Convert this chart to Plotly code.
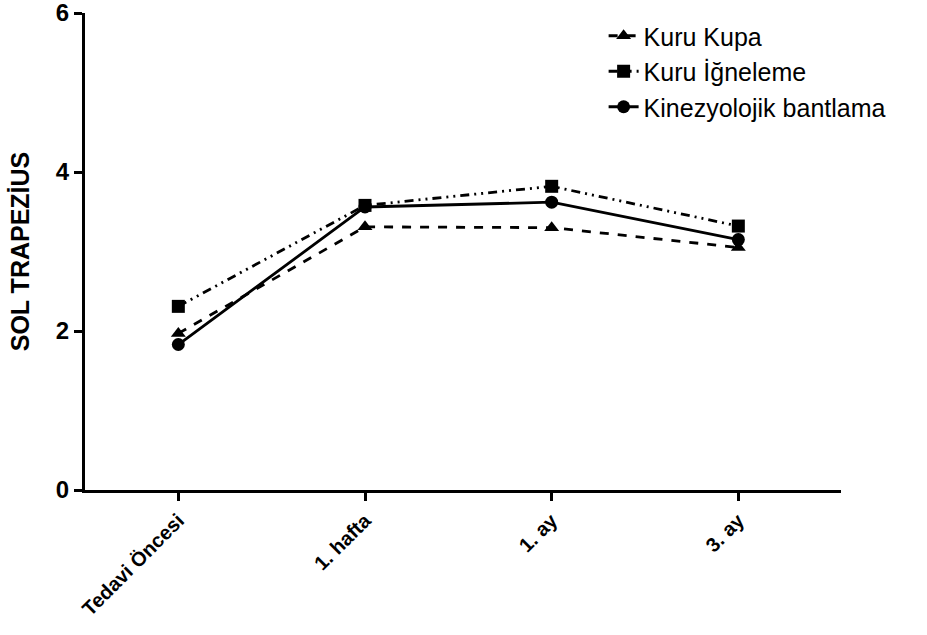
import plotly.graph_objects as go

# Time points and mean scores per treatment group
time_points = ["Tedavi Öncesi", "1. hafta", "1. ay", "3. ay"]
kuru_kupa = [1.97, 3.31, 3.30, 3.05]
kuru_igneleme = [2.31, 3.58, 3.82, 3.32]
kinezyolojik = [1.83, 3.56, 3.62, 3.15]
y_ticks = [0, 2, 4, 6]

x_pos = list(range(len(time_points)))

series = [
    ("Kuru Kupa", kuru_kupa, "dash", "triangle-up"),
    ("Kuru İğneleme", kuru_igneleme, "9px,5px,2px,5px,2px,5px", "square"),
    ("Kinezyolojik bantlama", kinezyolojik, "solid", "circle"),
]

fig = go.Figure()
for name, vals, dash, symbol in series:
    fig.add_trace(go.Scatter(
        x=x_pos, y=vals, name=name, mode="lines+markers",
        line=dict(color="black", width=2.8, dash=dash),
        marker=dict(symbol=symbol, size=13, color="black"),
    ))

font_family = "Liberation Sans, Arial"

fig.update_layout(
    width=927, height=635,
    margin=dict(l=85, r=86, t=13, b=145),
    plot_bgcolor="white", paper_bgcolor="white",
    showlegend=True,
    legend=dict(
        x=0.686, y=1.0, xanchor="left", yanchor="top",
        font=dict(family=font_family, size=25, color="black"),
        bgcolor="rgba(0,0,0,0)", tracegroupgap=1,
    ),
    xaxis=dict(
        range=[-0.5, 3.55], tickvals=x_pos, ticktext=time_points,
        tickangle=-45, showgrid=False, zeroline=False, automargin=False,
        showline=True, linecolor="black", linewidth=3,
        ticks="outside", ticklen=8, tickwidth=2.5, tickcolor="black",
        tickfont=dict(family=font_family, size=20, color="black", weight="bold"),
    ),
    yaxis=dict(
        range=[0, 6], tickvals=y_ticks, ticktext=[str(v) for v in y_ticks],
        showgrid=False, zeroline=False, automargin=False,
        ticklabeloverflow="allow",
        showline=True, linecolor="black", linewidth=3,
        ticks="outside", ticklen=8, tickwidth=2.5, tickcolor="black",
        tickfont=dict(family=font_family, size=24, color="black", weight="bold"),
        title=dict(text="SOL TRAPEZİUS", standoff=20,
                   font=dict(family=font_family, size=25, color="black", weight="bold")),
    ),
)

fig.write_html("out.html")
